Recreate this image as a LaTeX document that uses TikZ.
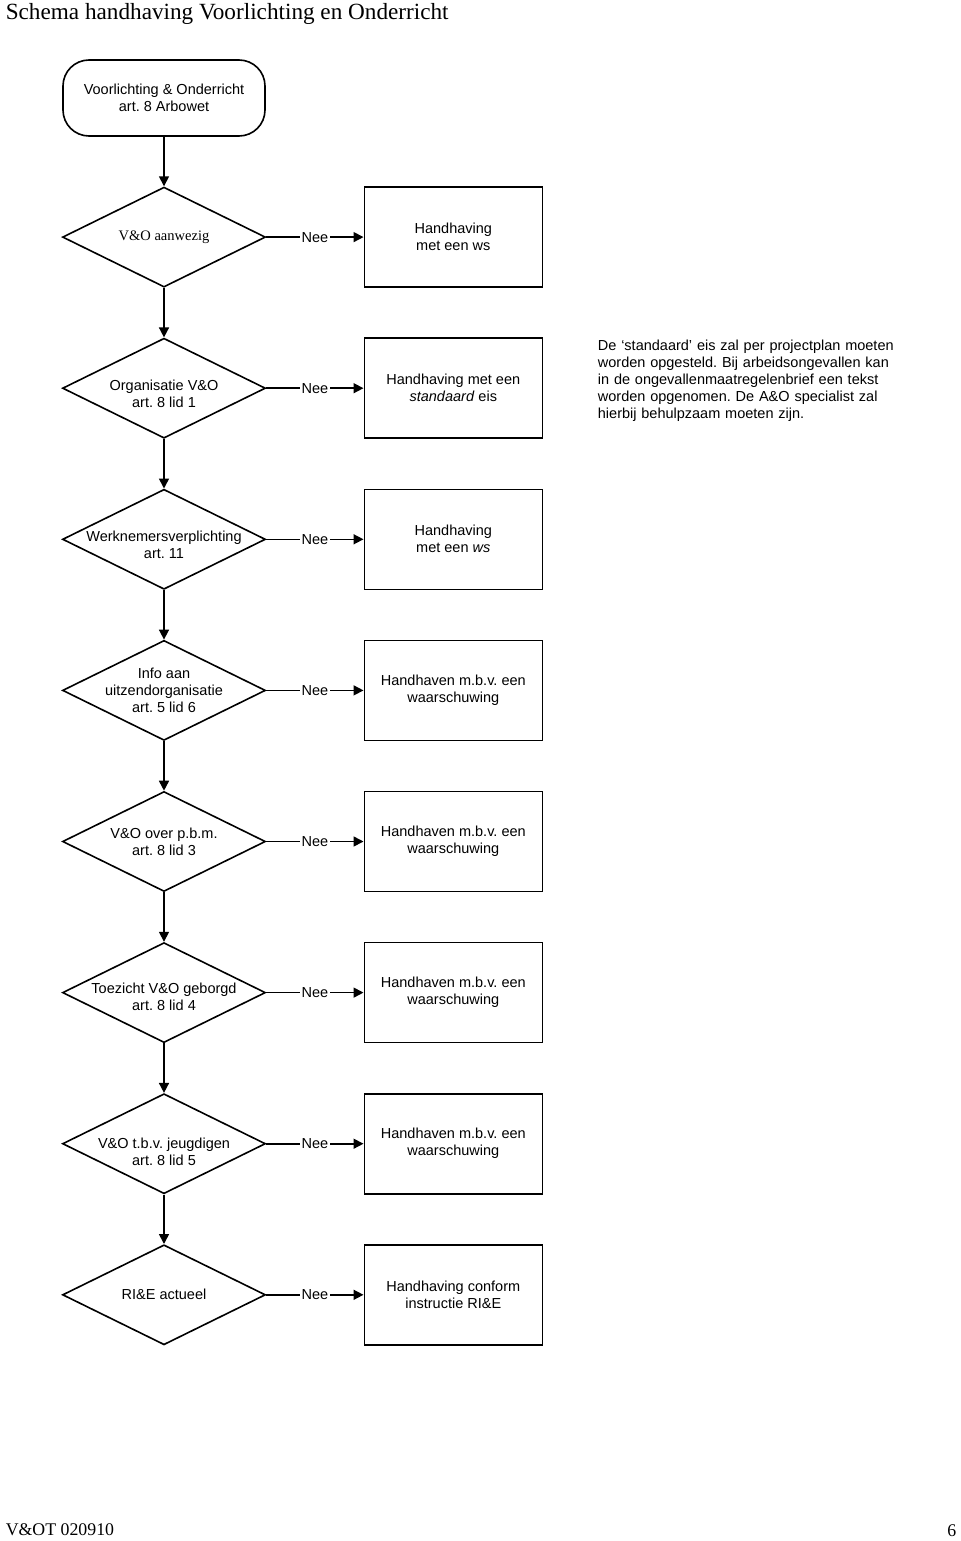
\documentclass[tikz,border=0pt]{standalone}
\usepackage{fontspec}
\setmainfont{Liberation Serif}
\setsansfont{Liberation Sans}
\usetikzlibrary{arrows.meta,positioning,shapes.geometric}
\frenchspacing

\tikzset{
  txt/.style={font=\sffamily\fontsize{7.25}{8.5}\selectfont},
  terminal/.style={rectangle, draw, rounded corners=13pt, minimum width=101pt, minimum height=38pt, align=center, txt},
  decision/.style 2 args={diamond, draw, minimum width=101.5pt, minimum height=50pt, inner sep=0pt, label={[dlabel,yshift=-#2]center:#1}},
  dlabel/.style={align=center, inner sep=0pt, txt},
  action/.style={rectangle, draw, minimum width=89pt, minimum height=50pt, align=center, txt},
  nee/.style={fill=white, inner sep=1pt, txt},
  flow/.style={-{Triangle[length=5pt,width=5pt]}},
}

\begin{document}
\begin{tikzpicture}[x=0.5pt, y=-0.5pt, line width=0.8pt, node distance=24.75pt and 48.6pt]
\useasboundingbox (0,0) rectangle (960,1541);

\node (title) [anchor=base west, inner sep=0pt, font=\fontsize{11.6}{14}\selectfont] at (5,20) {Schema handhaving Voorlichting en Onderricht};

\node (start) [terminal] at (164,98) {Voorlichting \& Onderricht\\art. 8 Arbowet};

\node (vo) [decision={\rmfamily V\&O aanwezig}{0pt}, below=of start] {};
\node (hws) [action, right=of vo] {Handhaving\\met een ws};

\node (org) [decision={Organisatie V\&O\\art. 8 lid 1}{2.75pt}, below=of vo] {};
\node (hstd) [action, right=of org] {Handhaving met een\\\textit{standaard} eis};
\node (note) [below right=1pt and 27pt of hstd.north east, text width=160pt, align=left, inner sep=0pt, txt] {De ‘standaard’ eis zal per projectplan moeten\\worden opgesteld. Bij arbeidsongevallen kan\\in de ongevallenmaatregelenbrief een tekst\\worden opgenomen. De A\&O specialist zal\\hierbij behulpzaam moeten zijn.};

\node (wnv) [decision={Werknemersverplichting\\art. 11}{3pt}, below=of org] {};
\node (hws2) [action, right=of wnv] {Handhaving\\met een \textit{ws}};

\node (info) [decision={Info aan\\uitzendorganisatie\\art. 5 lid 6}{0pt}, below=of wnv] {};
\node (ww1) [action, right=of info] {Handhaven m.b.v. een\\waarschuwing};

\node (pbm) [decision={V\&O over p.b.m.\\art. 8 lid 3}{0pt}, below=of info] {};
\node (ww2) [action, right=of pbm] {Handhaven m.b.v. een\\waarschuwing};

\node (tzh) [decision={Toezicht V\&O geborgd\\art. 8 lid 4}{2.25pt}, below=of pbm] {};
\node (ww3) [action, right=of tzh] {Handhaven m.b.v. een\\waarschuwing};

\node (jgd) [decision={V\&O t.b.v. jeugdigen\\art. 8 lid 5}{4.25pt}, below=of tzh] {};
\node (ww4) [action, right=of jgd] {Handhaven m.b.v. een\\waarschuwing};

\node (rie) [decision={RI\&E actueel}{0pt}, below=of jgd] {};
\node (hrie) [action, right=of rie] {Handhaving conform\\instructie RI\&E};

\node (code) [anchor=base west, inner sep=0pt, font=\fontsize{8.9}{10}\selectfont] at (5,1535) {V\&OT 020910};
\node (page) [anchor=base east, inner sep=0pt, font=\fontsize{8.9}{10}\selectfont] at (957,1536) {6};

\draw [flow] (start) -- (vo);
\draw [flow] (vo) -- (org);
\draw [flow] (org) -- (wnv);
\draw [flow] (wnv) -- (info);
\draw [flow] (info) -- (pbm);
\draw [flow] (pbm) -- (tzh);
\draw [flow] (tzh) -- (jgd);
\draw [flow] (jgd) -- (rie);

\draw [flow] (vo) -- node[nee] {Nee} (hws);
\draw [flow] (org) -- node[nee] {Nee} (hstd);
\draw [flow] (wnv) -- node[nee] {Nee} (hws2);
\draw [flow] (info) -- node[nee] {Nee} (ww1);
\draw [flow] (pbm) -- node[nee] {Nee} (ww2);
\draw [flow] (tzh) -- node[nee] {Nee} (ww3);
\draw [flow] (jgd) -- node[nee] {Nee} (ww4);
\draw [flow] (rie) -- node[nee] {Nee} (hrie);
\end{tikzpicture}
\end{document}
